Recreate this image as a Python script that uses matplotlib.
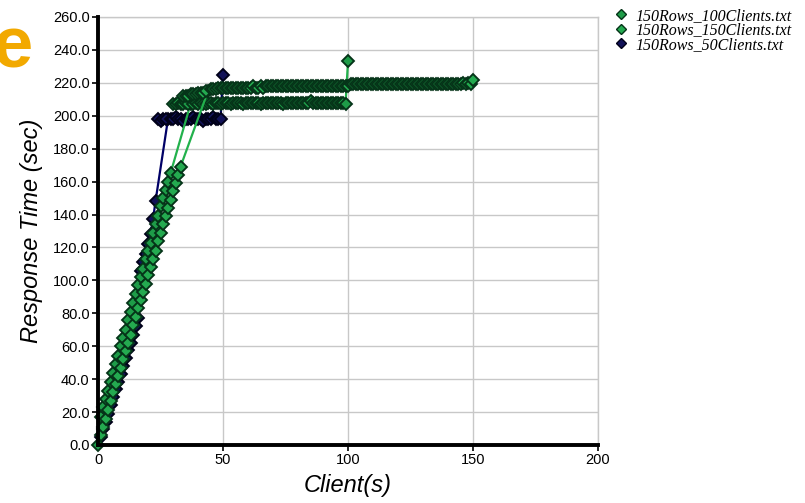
import matplotlib
matplotlib.use("Agg")
import matplotlib.pyplot as plt
from matplotlib.lines import Line2D

plt.rcParams['font.family'] = ['Liberation Sans', 'DejaVu Sans']

# 150Rows_50Clients.txt  (points in file order)
c50_x = list(range(1, 24)) + [28, 24, 25, 26, 27] + list(range(29, 51))
c50_y = [5, 10, 14, 19, 24, 29, 34, 38, 43, 48, 53, 58, 62, 67, 72, 77,
         106, 111, 116, 122, 128, 137, 148,
         198, 198, 197, 198, 198,
         198, 198, 199, 198, 198, 197, 198, 198, 198, 199, 198, 198, 198,
         197, 198, 198, 198, 199, 198, 198, 198, 225]

# 150Rows_100Clients.txt
c100_x = list(range(0, 30)) + [37] + list(range(30, 37)) + list(range(38, 101))
c100_y = [0, 17, 23, 28, 33, 38, 44, 49, 54, 60, 65, 70, 76, 81, 86, 92,
          97, 102, 107, 113, 118, 123, 129, 134, 139, 145, 150, 155, 160, 165,
          207,
          207, 207, 208, 207, 207, 208, 207,
          207, 208, 207, 208, 207, 207, 208, 208, 207, 208, 208, 207, 208, 208,
          208, 207, 208, 208, 208, 208, 207, 208, 208, 208, 208, 208, 208, 207,
          208, 208, 208, 208, 208, 208, 208, 208, 207, 208, 208, 208, 208, 208,
          208, 208, 208, 208, 208, 209, 208, 208, 208, 208, 208, 208, 208, 208,
          208, 208, 208, 208, 208, 207, 233]

# 150Rows_150Clients.txt
c150_x = list(range(1, 34)) + [44] + list(range(34, 44)) + list(range(45, 151))
c150_y = [6, 11, 16, 21, 27, 32, 37, 42, 47, 52, 57, 62, 67, 73, 78, 83,
          88, 93, 98, 103, 108, 113, 118, 124, 129, 134, 139, 144, 149, 154,
          159, 164, 169,
          215,
          212, 212, 212, 213, 213, 213, 214, 214, 214, 215,
          216, 216, 216, 217, 217, 217, 217, 217, 217, 217, 217, 217, 217, 217,
          217, 217, 217, 218, 217, 217, 218, 217, 218, 218, 218, 218, 218, 218,
          218, 218, 218, 218, 218, 218, 218, 218, 218, 218, 218, 218, 218, 218,
          218, 218, 218, 218, 218, 218, 218, 218, 218, 218, 218, 218, 218, 218,
          219, 219, 219, 219, 219, 219, 219, 219, 219, 219, 219, 219, 219, 219,
          219, 219, 219, 219, 219, 219, 219, 219, 219, 219, 219, 219, 219, 219,
          219, 219, 219, 219, 219, 219, 219, 219, 219, 219, 219, 219, 219, 219,
          219, 219, 219, 220, 219, 220, 219, 222]

series = [
    ('150Rows_50Clients.txt', c50_x, c50_y, '#000066', '#121258', '#000018'),
    ('150Rows_100Clients.txt', c100_x, c100_y, '#22b14c', '#1e9c48', '#053318'),
    ('150Rows_150Clients.txt', c150_x, c150_y, '#22b14c', '#24aa50', '#053318'),
]

fig = plt.figure(figsize=(8.05, 5.03), dpi=100)
ax = fig.add_axes([98 / 805, 58 / 503, 500 / 805, 428 / 503])

handles = {}
for name, xs, ys, lc, fc, ec in series:
    ax.plot(xs, ys, color=lc, lw=1.6, marker='D', markersize=6.0,
            markerfacecolor=fc, markeredgecolor=ec, markeredgewidth=1.35,
            clip_on=False, zorder=2)
    handles[name] = Line2D([], [], ls='none', marker='D', markersize=5.5,
                           markerfacecolor=fc, markeredgecolor=ec,
                           markeredgewidth=1.0)

ax.set_xlim(0, 200)
ax.set_ylim(0, 260)
ax.set_xticks(range(0, 201, 50))
ax.set_yticks(range(0, 261, 20))
ax.set_yticklabels([f'{v:.1f}' for v in range(0, 261, 20)])
ax.grid(True, color='#c8c8c8', lw=1.0)
ax.set_axisbelow(True)

for s in ['top', 'right']:
    ax.spines[s].set_color('#c8c8c8')
    ax.spines[s].set_linewidth(1.0)
for s in ['left', 'bottom']:
    ax.spines[s].set_color('black')
    ax.spines[s].set_linewidth(2.8)
    ax.spines[s].set_zorder(3)

ax.tick_params(axis='both', direction='out', length=4, width=1.2,
               labelsize=10.5, color='black', pad=2)

ax.set_xlabel('Client(s)', fontsize=17, style='italic', labelpad=5)
ax.set_ylabel('Response Time (sec)', fontsize=17, style='italic', labelpad=7)

order = ['150Rows_100Clients.txt', '150Rows_150Clients.txt', '150Rows_50Clients.txt']
fig.legend([handles[n] for n in order], order, loc='upper left',
           bbox_to_anchor=(614 / 805, 1 - 8 / 503), frameon=False,
           prop={'family': 'Liberation Serif', 'style': 'italic', 'size': 11.5},
           handlelength=0.9, handletextpad=0.45, labelspacing=-0.1,
           borderpad=0, borderaxespad=0)

fig.text(32 / 805, 1 - 68 / 503, 'e', color='#f2a900', fontsize=52,
         fontweight='bold', ha='right', va='baseline')

fig.savefig('out.png', dpi=100)
